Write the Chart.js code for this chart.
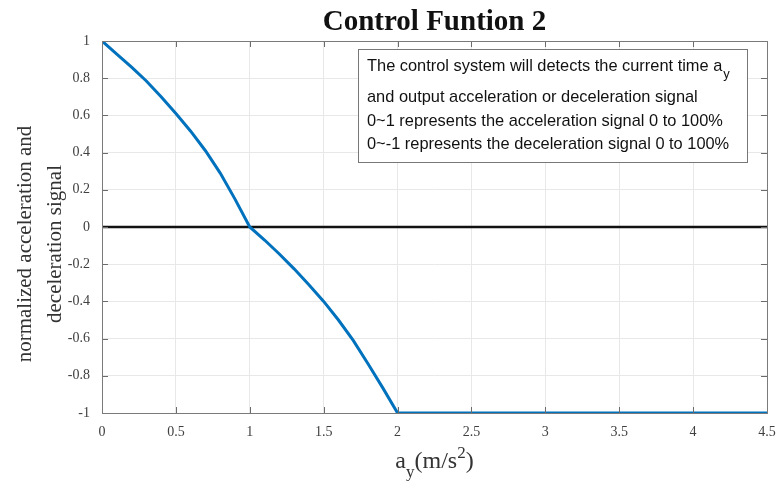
<!DOCTYPE html>
<html>
<head>
<meta charset="utf-8">
<script src="https://cdn.jsdelivr.net/npm/chart.js@4.4.1/dist/chart.umd.min.js"></script>
<style>
  html, body { margin: 0; padding: 0; background: #fff; }
  #wrap { width: 777px; height: 489px; position: relative; }
</style>
</head>
<body>
<div id="wrap"><canvas id="controlChart" width="777" height="489"></canvas></div>
<script>
// Data
const accelValues = [0, 0.1, 0.2, 0.3, 0.4, 0.5, 0.6, 0.7, 0.8, 0.9, 1.0,
                     1.1, 1.2, 1.3, 1.4, 1.5, 1.6, 1.7, 1.8, 1.9, 2.0, 4.5];
const signalValues = [1, 0.93, 0.86, 0.785, 0.70, 0.61, 0.515, 0.41, 0.29, 0.15, 0,
                      -0.07, -0.145, -0.225, -0.31, -0.40, -0.50, -0.61, -0.735, -0.865, -1, -1];
const zeroLineX = [0, 4.5];
const zeroLineY = [0, 0];
const xTickValues = [0, 0.5, 1, 1.5, 2, 2.5, 3, 3.5, 4, 4.5];
const yTickValues = [-1, -0.8, -0.6, -0.4, -0.2, 0, 0.2, 0.4, 0.6, 0.8, 1];

const titleText = 'Control Funtion 2';
const yLabelLines = ['normalized acceleration and', 'deceleration signal'];
const noteLines = [
  'The control system will detects the current time a',
  'and output acceleration or deceleration signal',
  '0~1 represents the acceleration signal 0 to 100%',
  '0~-1 represents the deceleration signal 0 to 100%'
];

const serif = '"Liberation Serif", "DejaVu Serif", serif';
const sans = '"Liberation Sans", Arial, sans-serif';

// Box, inward ticks, title, axis labels and note
const decorPlugin = {
  id: 'decor',
  afterDatasetsDraw(chart) {
    const ctx = chart.ctx;
    const a = chart.chartArea;
    const xs = chart.scales.x;
    const ys = chart.scales.y;
    ctx.save();

    // inward ticks
    ctx.strokeStyle = '#6b6b6b';
    ctx.lineWidth = 1;
    ctx.beginPath();
    xTickValues.forEach(v => {
      const px = Math.round(xs.getPixelForValue(v)) + 0.5;
      ctx.moveTo(px, a.bottom); ctx.lineTo(px, a.bottom - 6);
      ctx.moveTo(px, a.top); ctx.lineTo(px, a.top + 6);
    });
    yTickValues.forEach(v => {
      const py = Math.round(ys.getPixelForValue(v)) + 0.5;
      ctx.moveTo(a.left, py); ctx.lineTo(a.left + 6, py);
      ctx.moveTo(a.right, py); ctx.lineTo(a.right - 6, py);
    });
    ctx.stroke();

    // box
    ctx.strokeStyle = '#7a7a7a';
    ctx.strokeRect(Math.round(a.left) + 0.5, Math.round(a.top) + 0.5,
                   Math.round(a.right - a.left), Math.round(a.bottom - a.top));

    // note box
    const bx = 358, by = 49, bw = 389, bh = 113;
    ctx.fillStyle = '#fff';
    ctx.fillRect(bx, by, bw, bh);
    ctx.strokeStyle = '#777';
    ctx.strokeRect(bx + 0.5, by + 0.5, bw, bh);
    ctx.fillStyle = '#111';
    ctx.font = '16.4px ' + sans;
    ctx.textAlign = 'left';
    ctx.textBaseline = 'middle';
    const lineY = [66, 97, 121, 144];
    noteLines.forEach((t, i) => ctx.fillText(t, 367, lineY[i]));
    const w0 = ctx.measureText(noteLines[0]).width;
    ctx.font = '13px ' + sans;
    ctx.fillText('y', 367 + w0 + 1, lineY[0] + 8);

    // title
    ctx.fillStyle = '#111';
    ctx.font = 'bold 29px ' + serif;
    ctx.textAlign = 'center';
    ctx.fillText(titleText, (a.left + a.right) / 2, 23);

    // x label a_y(m/s^2)
    const cx = (a.left + a.right) / 2;
    ctx.fillStyle = '#333';
    ctx.font = '24px ' + serif;
    const wa = ctx.measureText('a').width;
    const wm = ctx.measureText('(m/s').width;
    const wc = ctx.measureText(')').width;
    ctx.font = '17px ' + serif;
    const wy = ctx.measureText('y').width;
    const w2 = ctx.measureText('2').width;
    let x0 = cx - (wa + wy + wm + w2 + wc) / 2;
    ctx.textAlign = 'left';
    ctx.textBaseline = 'alphabetic';
    ctx.font = '24px ' + serif;
    ctx.fillText('a', x0, 468); x0 += wa;
    ctx.font = '17px ' + serif;
    ctx.fillText('y', x0, 477); x0 += wy;
    ctx.font = '24px ' + serif;
    ctx.fillText('(m/s', x0, 468); x0 += wm;
    ctx.font = '17px ' + serif;
    ctx.fillText('2', x0, 458); x0 += w2;
    ctx.font = '24px ' + serif;
    ctx.fillText(')', x0, 468);

    // y label
    ctx.save();
    ctx.translate(0, 244);
    ctx.rotate(-Math.PI / 2);
    ctx.textAlign = 'center';
    ctx.textBaseline = 'middle';
    ctx.font = '21px ' + serif;
    ctx.fillText(yLabelLines[0], 0, 25);
    ctx.fillText(yLabelLines[1], 0, 55);
    ctx.restore();

    ctx.restore();
  }
};

const ctx = document.getElementById('controlChart').getContext('2d');
new Chart(ctx, {
  type: 'line',
  data: {
    datasets: [
      {
        label: 'zero',
        data: zeroLineX.map((x, i) => ({x, y: zeroLineY[i]})),
        borderColor: '#111',
        borderWidth: 2.5,
        pointRadius: 0,
        order: 2
      },
      {
        label: 'signal',
        data: accelValues.map((x, i) => ({x, y: signalValues[i]})),
        borderColor: '#0072BD',
        borderWidth: 3,
        pointRadius: 0,
        tension: 0,
        order: 1
      }
    ]
  },
  options: {
    responsive: false,
    animation: false,
    events: [],
    layout: { padding: { left: 0, right: 0, top: 41, bottom: 0 } },
    plugins: {
      legend: { display: false },
      title: { display: false },
      tooltip: { enabled: false }
    },
    scales: {
      x: {
        type: 'linear',
        min: 0,
        max: 4.5,
        afterFit: s => { s.height = 76; s.paddingRight = 10; },
        afterBuildTicks: s => { s.ticks = xTickValues.map(v => ({value: v})); },
        grid: { color: '#e8e8e8', drawTicks: false },
        border: { display: false },
        ticks: {
          padding: 11,
          color: '#404040',
          font: { family: serif, size: 14 },
          maxRotation: 0,
          callback: v => String(v)
        }
      },
      y: {
        min: -1,
        max: 1,
        afterFit: s => { s.width = 102; },
        afterBuildTicks: s => { s.ticks = yTickValues.map(v => ({value: v})); },
        grid: { color: '#e8e8e8', drawTicks: false },
        border: { display: false },
        ticks: {
          padding: 12,
          color: '#404040',
          font: { family: serif, size: 14 },
          callback: v => String(Number(v.toFixed(1)))
        }
      }
    }
  },
  plugins: [decorPlugin]
});
</script>
</body>
</html>
